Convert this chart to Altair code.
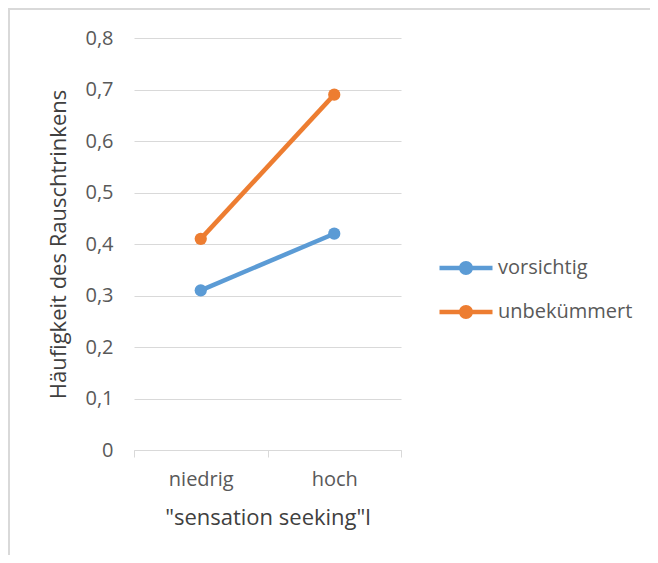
import altair as alt
import pandas as pd

categories = ["niedrig", "hoch"]
series = ["vorsichtig", "unbekümmert"]
vorsichtig = [0.31, 0.42]
unbekuemmert = [0.41, 0.69]
y_ticks = [0, 0.1, 0.2, 0.3, 0.4, 0.5, 0.6, 0.7, 0.8]
colors = ["#5B9BD5", "#ED7D31"]

rows = []
for name, vals in zip(series, [vorsichtig, unbekuemmert]):
    for c, v in zip(categories, vals):
        rows.append({"kategorie": c, "gruppe": name, "wert": v})
df = pd.DataFrame(rows)

FONT = "Open Sans"
GRAY = "#d9d9d9"
TXT = "#595959"

x = alt.X("kategorie:N", sort=categories,
          scale=alt.Scale(paddingInner=0, paddingOuter=0),
          axis=alt.Axis(title='"sensation seeking"l', tickBand="extent",
                        labelAngle=0, grid=False, domainColor=GRAY, tickColor=GRAY,
                        tickSize=7, labelPadding=12, labelFontSize=20, labelColor=TXT,
                        titleFontSize=22, titleColor="#404040", titleFontWeight="normal",
                        titlePadding=18))
y = alt.Y("wert:Q", scale=alt.Scale(domain=[0, 0.8], nice=False),
          axis=alt.Axis(title="Häufigkeit des Rauschtrinkens", values=y_ticks,
                        labelExpr="datum.value == 0 ? '0' : replace(format(datum.value, '.1f'), '.', ',')",
                        domain=False, ticks=False, gridColor=GRAY, gridWidth=1,
                        labelPadding=21, labelFontSize=20, labelColor=TXT,
                        titleFontSize=22, titleColor="#404040", titleFontWeight="normal",
                        titlePadding=14))
color_scale = alt.Scale(domain=series, range=colors)

sym = "M-1.325,-0.11H1.325V0.11H-1.325Z M0.35,0 A0.35,0.35 0 1,1 -0.35,0 A0.35,0.35 0 1,1 0.35,0Z"
legend = alt.Legend(title=None, orient="right", offset=-165, padding=210,
                    symbolType=sym, symbolSize=1600, symbolStrokeWidth=0,
                    symbolFillColor="#5B9BD5",
                    labelFontSize=20, labelColor=TXT, labelOffset=12,
                    rowPadding=14)

lines = alt.Chart(df).mark_line(strokeWidth=4.5).encode(
    x=x, y=y,
    color=alt.Color("gruppe:N", scale=color_scale, sort=series, legend=legend),
)

points = alt.Chart(df).mark_circle(size=150, opacity=1).encode(
    x=x, y=y,
    color=alt.Color("gruppe:N", scale=color_scale, sort=series, legend=legend),
)

frame = alt.Data(values=[{"a": 1}])
left_border = alt.Chart(frame).mark_rule(color=GRAY, strokeWidth=2).encode(
    x=alt.value(-125), y=alt.value(-29), y2=alt.value(517))
top_border = alt.Chart(frame).mark_rule(color=GRAY, strokeWidth=2).encode(
    x=alt.value(-126), x2=alt.value(516), y=alt.value(-29))

chart = alt.layer(left_border, top_border, lines, points).properties(
    width=267, height=412,
    autosize=alt.AutoSizeParams(type="none"),
    padding={"left": 126, "top": 30, "right": 249, "bottom": 105},
).configure(font=FONT).configure_view(stroke=None)

chart.save("out.html", embed_options={"renderer": "svg", "actions": False})
